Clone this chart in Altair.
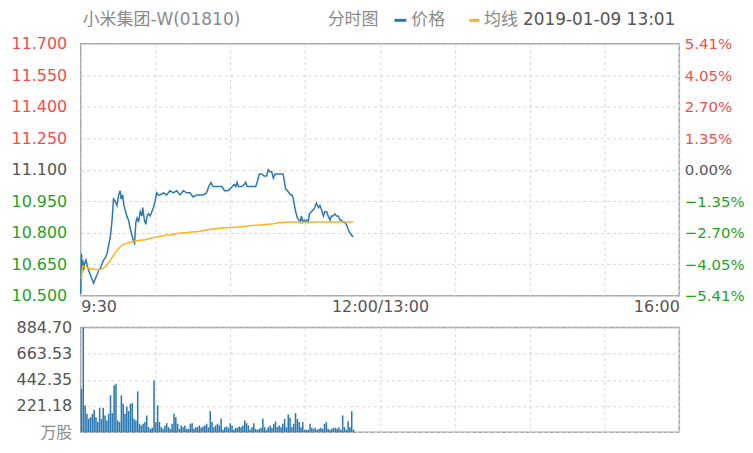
import altair as alt
import pandas as pd

# ---------------- data ----------------
# minutes after 9:30 (trading minutes; 150 = 12:00 = 13:00, 330 = 16:00)
blue_minute = [0.0, 0.4, 0.8, 1.2, 1.6, 2.1, 2.9, 3.7, 4.4, 5.3, 6.2, 7.1, 8.0, 9.0, 9.9,
               10.8, 11.7, 12.6, 13.5, 14.5, 15.4, 16.3, 17.2, 18.1, 19.0, 20.0, 20.9, 21.8,
               22.3, 23.1, 23.8, 24.5, 25.4, 26.4, 27.3, 28.2, 29.1, 29.7, 30.4, 31.1, 31.9,
               32.8, 33.7, 34.2, 35.1, 35.9, 36.6, 37.3, 38.3, 39.2, 40.1, 41.0, 41.9, 42.8,
               43.7, 45.6, 47.4, 49.2, 51.1, 52.9, 54.7, 56.6, 58.4, 60.2, 62.0, 63.9, 65.7,
               67.5, 69.4, 70.6, 71.8, 72.9, 74.9, 77.8, 79.3, 81.1, 82.4, 83.6, 84.7, 85.5,
               86.2, 86.9, 88.8, 90.2, 91.0, 91.7, 96.5, 97.6, 98.5, 99.8, 101.2, 102.5,
               103.4, 104.3, 105.3, 106.2, 107.1, 108.0, 111.6, 112.2, 112.9, 114.0, 114.8,
               115.9, 116.6, 117.3, 118.0, 118.8, 119.5, 120.3, 121.0, 121.7, 122.4, 123.2,
               123.9, 124.6, 125.4, 126.1, 127.2, 128.3, 129.0, 129.9, 130.5, 131.2, 131.9,
               132.7, 133.8, 134.5, 135.6, 136.4, 137.5, 138.2, 139.1, 140.1, 141.0, 141.9,
               143.0, 143.7, 144.6, 145.5, 146.4, 147.3, 148.3, 149.2, 150.1]
blue_price = [10.51, 10.70, 10.63, 10.67, 10.62, 10.65, 10.67, 10.64, 10.62, 10.60, 10.58,
              10.56, 10.58, 10.60, 10.62, 10.63, 10.65, 10.67, 10.68, 10.70, 10.74, 10.78,
              10.85, 10.96, 10.95, 10.93, 10.98, 11.00, 10.96, 10.98, 10.93, 10.91, 10.88,
              10.86, 10.82, 10.79, 10.76, 10.75, 10.85, 10.87, 10.85, 10.90, 10.88, 10.92,
              10.86, 10.84, 10.88, 10.89, 10.88, 10.90, 10.92, 10.95, 10.99, 10.98, 10.98,
              10.99, 10.98, 11.00, 10.99, 11.00, 10.98, 11.00, 10.99, 10.99, 10.97, 10.98,
              10.98, 10.98, 10.99, 11.02, 11.04, 11.02, 11.02, 11.02, 11.00, 11.00, 11.01,
              11.02, 11.03, 11.02, 11.04, 11.02, 11.02, 11.03, 11.04, 11.02, 11.02, 11.05,
              11.08, 11.08, 11.07, 11.07, 11.10, 11.09, 11.09, 11.06, 11.08, 11.08, 11.08,
              11.05, 11.01, 11.00, 10.99, 10.98, 10.98, 10.96, 10.92, 10.89, 10.87, 10.86,
              10.85, 10.88, 10.85, 10.86, 10.85, 10.86, 10.85, 10.89, 10.90, 10.91, 10.92,
              10.94, 10.93, 10.92, 10.93, 10.91, 10.88, 10.90, 10.90, 10.88, 10.86, 10.88,
              10.88, 10.89, 10.88, 10.88, 10.86, 10.86, 10.85, 10.85, 10.84, 10.82, 10.80,
              10.79, 10.78]

avg_minute = [0.4, 1.1, 2.6, 4.4, 7.1, 9.9, 11.7, 13.5, 15.4, 17.2, 19.0, 20.9, 22.7, 24.5,
              26.4, 29.1, 31.9, 35.5, 39.2, 42.8, 46.5, 50.2, 53.8, 57.5, 61.1, 64.8, 68.5,
              72.1, 77.8, 83.3, 88.8, 94.3, 99.8, 105.3, 108.9, 112.6, 118.1, 129.1, 140.1,
              150.1]
avg_price = [10.58, 10.64, 10.64, 10.63, 10.627, 10.622, 10.627, 10.637, 10.658, 10.68,
             10.705, 10.725, 10.74, 10.747, 10.752, 10.759, 10.763, 10.767, 10.775, 10.781,
             10.788, 10.79, 10.797, 10.80, 10.803, 10.806, 10.812, 10.816, 10.822, 10.825,
             10.828, 10.834, 10.838, 10.841, 10.847, 10.85, 10.851, 10.851, 10.851, 10.851]

# volume per minute (10k shares), minute 0 .. 150
volume = [367, 884.7, 226, 155, 113, 127, 155, 189, 127, 85, 206, 113, 206, 141, 99, 155,
          311, 161, 396, 410, 99, 85, 311, 240, 155, 218, 178, 240, 246, 113, 99, 345, 71,
          57, 71, 85, 141, 42, 28, 37, 438, 85, 226, 85, 42, 28, 57, 76, 42, 28, 71, 155,
          127, 71, 28, 57, 42, 57, 28, 28, 71, 76, 28, 42, 42, 57, 37, 48, 57, 71, 42, 178,
          85, 42, 57,
          71, 57, 113, 20, 42, 48, 37, 76, 57, 20, 37, 37, 48, 42, 57, 99, 76, 57, 20, 42,
          76, 28, 20, 28, 37, 113, 42, 20, 42, 57, 37, 71, 90, 42, 57, 42, 71, 113, 42, 150,
          122, 42, 71, 161, 113, 85, 42, 85, 20, 20, 20, 71, 37, 28, 37, 20, 28, 37, 28, 71,
          85, 28, 20, 28, 37, 37, 28, 42, 20, 141, 42, 20, 93, 42, 178, 20]
volume_minute = list(range(len(volume)))

price_ticks = [10.5, 10.65, 10.8, 10.95, 11.1, 11.25, 11.4, 11.55, 11.7]
volume_ticks = [0, 221.18, 442.35, 663.53, 884.7]
time_grid = [0, 41.25, 82.5, 123.75, 165, 206.25, 247.5, 288.75, 330]
prev_close = 11.1

header_texts = ["小米集团-W(01810)", "分时图", "价格", "均线", "2019-01-09 13:01"]

# ---------------- styling ----------------
FONT = "DejaVu Sans, Noto Sans CJK SC"
BLUE = "#2a79b5"
ORANGE = "#ffb21c"
RED = "#f54c4c"
GREEN = "#1fa21f"
DARK = "#555555"
GREY = "#8a8a8a"
W, H, HV = 601, 253, 105
HY = -23.5

color_expr = ("datum.value > %.3f ? '%s' : (datum.value < %.3f ? '%s' : '%s')"
              % (prev_close + 0.001, RED, prev_close - 0.001, GREEN, DARK))

xscale = alt.Scale(domain=[0, 330], nice=False, zero=False)
yscale = alt.Scale(domain=[10.5, 11.7], nice=False, zero=False)

x_axis = alt.Axis(
    values=time_grid, grid=True, title=None, labelFlush=True, labelOverlap=False,
    labelExpr="datum.value == 0 ? '9:30' : (datum.value == 165 ? '12:00/13:00' : "
              "(datum.value == 330 ? '16:00' : ''))",
    labelPadding=3, labelColor=DARK)

left_axis = alt.Axis(orient="left", values=price_ticks, format=".3f", grid=True,
                     title=None, labelPadding=14, labelColor={"expr": color_expr},
                     labelFlush=False, labelOverlap=False)
right_axis = alt.Axis(orient="right", values=price_ticks, grid=False, title=None,
                      labelExpr="format((datum.value / %s - 1) * 100, '.2f') + '%%'" % prev_close,
                      labelPadding=5, labelFontSize=15, labelColor={"expr": color_expr},
                      labelFlush=False, labelOverlap=False)

price_df = pd.DataFrame({"m": blue_minute, "p": blue_price})
avg_df = pd.DataFrame({"m": avg_minute, "p": avg_price})
vol_df = pd.DataFrame({"m": volume_minute, "v": volume})

blue_line = alt.Chart(price_df).mark_line(color=BLUE, strokeWidth=1.5).encode(
    x=alt.X("m:Q", scale=xscale, axis=x_axis),
    y=alt.Y("p:Q", scale=yscale, axis=left_axis),
)
avg_line = alt.Chart(avg_df).mark_line(color=ORANGE, strokeWidth=1.5).encode(
    x=alt.X("m:Q", scale=xscale, axis=x_axis),
    y=alt.Y("p:Q", scale=yscale, axis=right_axis),
)


def header(text, dx, color):
    return alt.Chart(pd.DataFrame({"t": [text]})).mark_text(
        align="left", baseline="middle", font=FONT, fontSize=17, color=color
    ).encode(x=alt.value(dx), y=alt.value(HY), text="t:N")


def swatch(x1, x2, color):
    return alt.Chart(pd.DataFrame({"k": [0]})).mark_rule(color=color, strokeWidth=3).encode(
        x=alt.value(x1), x2=alt.value(x2), y=alt.value(HY))


headers = [
    header(header_texts[0], 2, GREY),
    header(header_texts[1], 248, GREY),
    swatch(315, 327, BLUE),
    header(header_texts[2], 332, GREY),
    swatch(390, 400, ORANGE),
    header(header_texts[3], 405, GREY),
    header(header_texts[4], 444, DARK),
]

price_chart = alt.layer(blue_line, avg_line, *headers).resolve_axis(
    y="independent").properties(width=W, height=H)

vol_chart = alt.Chart(vol_df).transform_calculate(m2="datum.m + 0.85").mark_bar(
    color=BLUE).encode(
    x=alt.X("m:Q", scale=xscale,
            axis=alt.Axis(values=time_grid, grid=True, labels=False, title=None)),
    x2="m2:Q",
    y=alt.Y("v:Q", scale=alt.Scale(domain=[0, 884.7], nice=False),
            axis=alt.Axis(values=volume_ticks, grid=True, title=None, labelPadding=9,
                          labelExpr="datum.value == 0 ? '万股' : format(datum.value, '.2f')",
                          labelColor={"expr": "datum.value == 0 ? '%s' : '%s'" % (GREY, DARK)},
                          labelFlush=False, labelOverlap=False)),
    y2=alt.datum(0),
).properties(width=W, height=HV)

chart = alt.vconcat(price_chart, vol_chart, spacing=32, bounds="flush").properties(
    padding={"left": 2, "top": 1, "right": 0, "bottom": 0},
    background="white",
).configure_view(
    stroke="#a6a6a6", strokeWidth=1.5
).configure_axis(
    domain=False, ticks=False, gridColor="#d6d6d6", gridDash=[3, 3], gridWidth=1,
    labelFont=FONT, labelFontSize=16
)

chart.save("out.html", embed_options={"renderer": "svg", "actions": False})
